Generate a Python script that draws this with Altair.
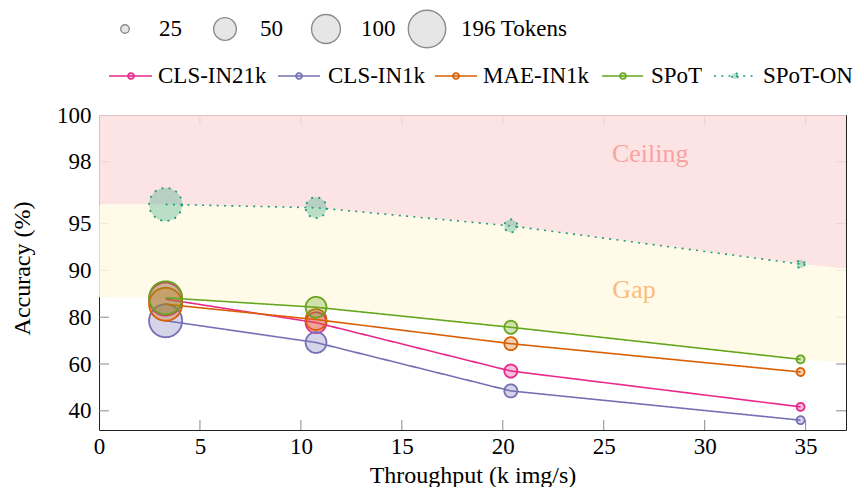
import math
import altair as alt
import pandas as pd

# ---------------- data ----------------
SERIES = ["CLS-IN21k", "CLS-IN1k", "MAE-IN1k", "SPoT", "SPoT-ON"]
THROUGHPUT = [3.3, 10.75, 20.4, 34.75]          # k img/s
TOKENS = [196, 100, 50, 25]                     # tokens per point
ACC_CLS_IN21K = [84.7, 77.7, 57.0, 41.7]
ACC_CLS_IN1K = [78.5, 69.2, 48.5, 36.0]
ACC_MAE_IN1K = [83.5, 79.0, 68.7, 56.6]
ACC_SPOT = [85.0, 82.75, 75.7, 62.0]
ACC_SPOT_ON = [96.24, 96.05, 94.83, 90.9]

# shaded bands: edges of the Ceiling / Gap regions at the axis limits
BAND_EDGE_X = [0, 37]
CEILING_EDGE_ACC = [96.24, 90.25]
GAP_EDGE_ACC = [85.1, 60.6]

ANNOT_TEXT = ["Ceiling", "Gap"]
ANNOT_X = [27.3, 26.5]
ANNOT_ACC = [98.0, 85.0]

X_TICKS = [0, 5, 10, 15, 20, 25, 30, 35]
Y_TICKS = [40, 60, 80, 90, 95, 98, 100]
LEGEND_TOKEN_LABELS = ["25", "50", "100", "196 Tokens"]

# ---------------- styling ----------------
COLORS = ["#e7298a", "#7570b3", "#d95f02", "#66a61e", "#1b9e77"]
DOTTED = [2, 5.3]
SOLID = [1, 0]
FONT = "Liberation Serif"
LABEL_FS = 23
TITLE_FS = 24
LFS = 23
W, H = 747, 315
X_MAX = 37


def tr(a):
    """Accuracy axis: linear below 80, log of the error above 80."""
    if a <= 80:
        return (a - 80) / 20.0
    return math.log2(20.0 / max(100.0 - a, 1.0))


T_MAX = tr(100)
T_MIN = -2.41

series_acc = [ACC_CLS_IN21K, ACC_CLS_IN1K, ACC_MAE_IN1K, ACC_SPOT, ACC_SPOT_ON]

xs = alt.Scale(domain=[0, X_MAX], nice=False, zero=False)
ys = alt.Scale(domain=[T_MIN, T_MAX], nice=False, zero=False)

label_expr = " : ".join(
    f"abs(datum.value - {tr(v):.6f}) < 0.001 ? '{v}'" for v in Y_TICKS
) + " : ''"

x_axis = alt.Axis(values=X_TICKS, title="Throughput (k img/s)", labelPadding=5,
                  titleY=52, titleBaseline="alphabetic", labelFlush=False,
                  labelOverlap=False)
y_axis = alt.Axis(values=[tr(v) for v in Y_TICKS], labelExpr=label_expr,
                  title="Accuracy (%)", labelPadding=8, titleX=-70, titleY=153,
                  titleAngle=270, titleBaseline="alphabetic", titleAlign="center",
                  labelOverlap=False, labelFlush=False)


def X(field):
    return alt.X(field, type="quantitative", scale=xs, axis=x_axis)


def Y(field):
    return alt.Y(field, type="quantitative", scale=ys, axis=y_axis)


size_scale = alt.Scale(domain=sorted(TOKENS), range=[64, 170, 434, 1090])

layers = []

# ---------- inward ticks (under the shading) ----------
ytick_df = pd.DataFrame({"t": [tr(v) for v in Y_TICKS if v < 100]})
xtick_df = pd.DataFrame({"x": [v for v in X_TICKS if v > 0]})
TICK_C = "#8a8a8a"
layers.append(alt.Chart(ytick_df).mark_rule(color=TICK_C, strokeWidth=1).encode(
    y=Y("t"), x=alt.value(0), x2=alt.value(10)))
layers.append(alt.Chart(ytick_df).mark_rule(color=TICK_C, strokeWidth=1).encode(
    y=Y("t"), x=alt.value(W - 10), x2=alt.value(W)))
layers.append(alt.Chart(xtick_df).mark_rule(color=TICK_C, strokeWidth=1).encode(
    x=X("x"), y=alt.value(H - 10), y2=alt.value(H)))
layers.append(alt.Chart(xtick_df).mark_rule(color=TICK_C, strokeWidth=1).encode(
    x=X("x"), y=alt.value(0), y2=alt.value(10)))

# ---------- shaded bands ----------
band_x = [BAND_EDGE_X[0]] + THROUGHPUT + [BAND_EDGE_X[1]]
band_upper = [CEILING_EDGE_ACC[0]] + ACC_SPOT_ON + [CEILING_EDGE_ACC[1]]
band_lower = [GAP_EDGE_ACC[0]] + ACC_SPOT + [GAP_EDGE_ACC[1]]
band_df = pd.DataFrame({
    "x": band_x,
    "t_top": [T_MAX] * len(band_x),
    "t_on": [tr(a) for a in band_upper],
    "t_spot": [tr(a) for a in band_lower],
})
layers.append(alt.Chart(band_df).mark_area(color="#fddfdf", opacity=0.85).encode(
    x=X("x"), y=Y("t_top"), y2=alt.Y2("t_on")))
layers.append(alt.Chart(band_df).mark_area(color="#fffae4", opacity=0.85).encode(
    x=X("x"), y=Y("t_on"), y2=alt.Y2("t_spot")))

# ---------- band labels ----------
annot_df = pd.DataFrame({"x": ANNOT_X, "t": [tr(a) for a in ANNOT_ACC], "label": ANNOT_TEXT})
layers.append(alt.Chart(annot_df).mark_text(font=FONT, fontSize=26, align="center",
                                            baseline="alphabetic").encode(
    x=X("x"), y=Y("t"), text="label:N",
    color=alt.Color("label:N", scale=alt.Scale(domain=ANNOT_TEXT,
                                               range=["#f7a3a3", "#fcbb7c"]), legend=None)))

# ---------- series ----------
for name, col, acc in zip(SERIES, COLORS, series_acc):
    df = pd.DataFrame({"x": THROUGHPUT, "t": [tr(a) for a in acc], "tokens": TOKENS})
    dash = DOTTED if name == "SPoT-ON" else SOLID
    layers.append(alt.Chart(df).mark_line(color=col, strokeWidth=1.6, strokeDash=dash).encode(
        x=X("x"), y=Y("t")))
    layers.append(alt.Chart(df).mark_circle(color=col, fill=col, fillOpacity=0.3, stroke=col,
                                            strokeOpacity=1, opacity=1, strokeWidth=1.8,
                                            strokeDash=dash).encode(
        x=X("x"), y=Y("t"),
        size=alt.Size("tokens:Q", scale=size_scale, legend=None)))

# ---------- legends (drawn above the plot area) ----------
one = pd.DataFrame({"k": [0]})
ROW1_Y, ROW2_Y = -86, -39
ROW1_CX = [26, 126, 227, 328]
ROW1_TX = [60, 161, 262, 362]
ROW1_AREA = [72, 515, 835, 1400]
for lab, cx, tx, area in zip(LEGEND_TOKEN_LABELS, ROW1_CX, ROW1_TX, ROW1_AREA):
    layers.append(alt.Chart(one).mark_circle(fill="#e6e6e6", stroke="#8c8c8c", strokeWidth=1.4,
                                             opacity=1, fillOpacity=1).encode(
        x=alt.value(cx), y=alt.value(ROW1_Y), size=alt.value(area)))
    layers.append(alt.Chart(one).mark_text(text=lab, font=FONT, fontSize=LFS, align="left",
                                           baseline="middle", color="#000").encode(
        x=alt.value(tx), y=alt.value(ROW1_Y)))

ROW2_POS = [(10, 53, 32, 59), (179, 221, 200, 229), (336, 378, 357, 384),
            (503, 544, 524, 552), (615, 654, 636, 664)]
for name, col, (x0, x1, cx, tx) in zip(SERIES, COLORS, ROW2_POS):
    dash = DOTTED if name == "SPoT-ON" else SOLID
    layers.append(alt.Chart(one).mark_rule(color=col, strokeWidth=1.6, strokeDash=dash).encode(
        x=alt.value(x0), x2=alt.value(x1), y=alt.value(ROW2_Y)))
    layers.append(alt.Chart(one).mark_circle(fill=col, fillOpacity=0.3, stroke=col, opacity=1,
                                             strokeWidth=1.6, strokeDash=dash).encode(
        x=alt.value(cx), y=alt.value(ROW2_Y), size=alt.value(36)))
    layers.append(alt.Chart(one).mark_text(text=name, font=FONT, fontSize=LFS, align="left",
                                           baseline="middle", color="#000").encode(
        x=alt.value(tx), y=alt.value(ROW2_Y)))

chart = alt.layer(*layers).properties(
    width=W, height=H,
    autosize=alt.AutoSizeParams(type="none"),
    padding={"left": 91, "top": 107, "right": 10, "bottom": 57},
).configure_view(stroke="#222222", strokeWidth=1).configure_axis(
    labelFont=FONT, labelFontSize=LABEL_FS, titleFont=FONT, titleFontSize=TITLE_FS,
    titleFontWeight="normal", labelColor="#000", titleColor="#000",
    grid=False, ticks=False, domain=False,
)

chart.save("out.html", embed_options={"renderer": "svg", "actions": False})
